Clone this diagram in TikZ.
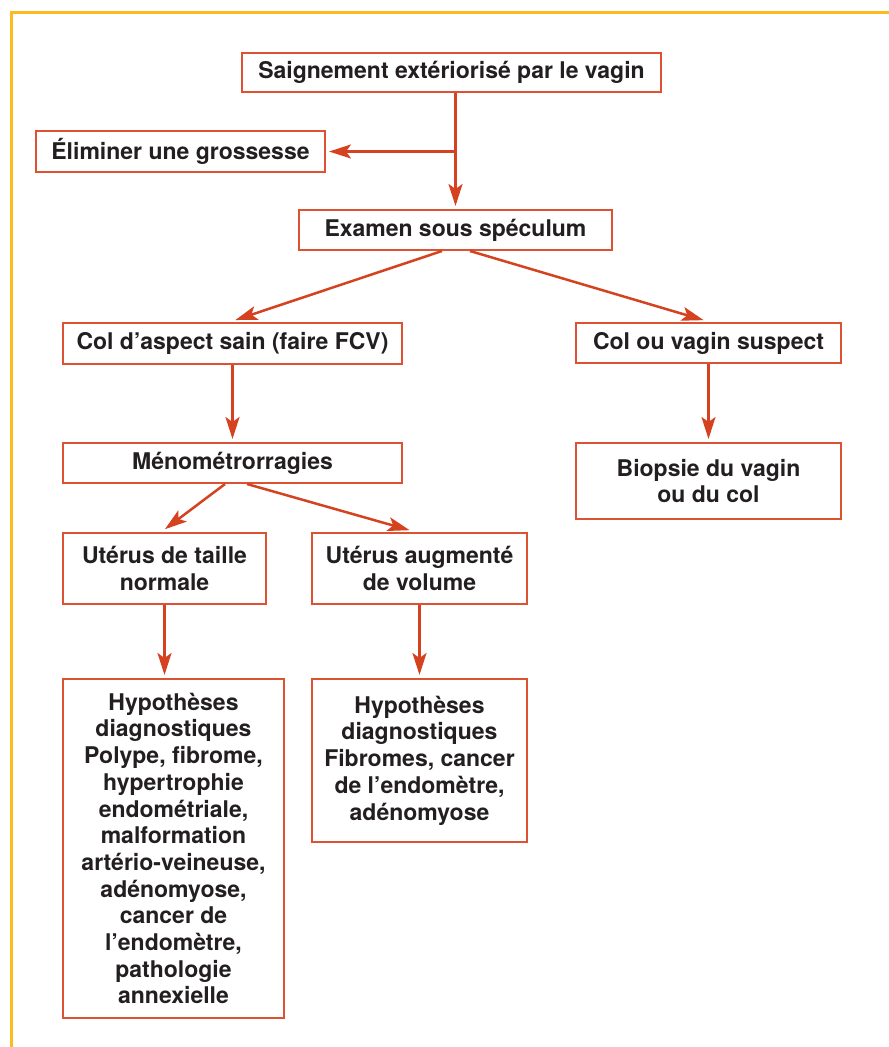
\documentclass[tikz,border=0pt]{standalone}
\usepackage{fontspec}
\setmainfont{TeX Gyre Heros}
\usetikzlibrary{arrows.meta,calc}
\definecolor{boxred}{RGB}{222,82,52}
\definecolor{arrowred}{RGB}{212,66,32}
\definecolor{framegold}{RGB}{251,187,34}
\definecolor{inkgrey}{RGB}{35,31,32}
\begin{document}
\begin{tikzpicture}[
	x=1pt, y=-1pt,
	box/.style={ rectangle, draw=boxred, line width=2pt, inner sep=0pt, align=center, text=inkgrey, font={\fontsize{23}{26.7}\selectfont\bfseries} },
	flow/.style={ draw=arrowred, line width=2.5pt, -{Stealth[length=22pt,width=14pt,inset=5pt]}, shorten >=3pt },
	frameline/.style={ draw=framegold, line width=3pt }
]
\useasboundingbox (0,0) rectangle (889,1047);
\draw[frameline] (11,1047) -- (11,12) -- (889,12);

\node at (451.5,72.5) (saign) [box,minimum width=419pt,minimum height=39pt] {Saignement extériorisé par le vagin};
\node at (180.5,151.5) (elim) [box,minimum width=289pt,minimum height=41pt] {Éliminer une grossesse};
\node at (455.5,230) (exam) [box,minimum width=313pt,minimum height=40pt] {Examen sous spéculum};
\node at (232.5,343.5) (colsain) [box,minimum width=339pt,minimum height=41pt] {Col d’aspect sain (faire FCV)};
\node at (708.5,343) (colsusp) [box,minimum width=265pt,minimum height=40pt] {Col ou vagin suspect};
\node at (708.5,481) (biop) [box,minimum width=265pt,minimum height=76pt] {Biopsie du vagin\\ou du col};
\node at (232.5,463) (meno) [box,minimum width=339pt,minimum height=40pt] {Ménométrorragies};
\node at (164.5,568.5) (utnorm) [box,minimum width=203pt,minimum height=71pt] {Utérus de taille\\normale};
\node at (419.5,568.5) (utaug) [box,minimum width=215pt,minimum height=71pt] {Utérus augmenté\\de volume};
\node at (173.5,848.5) (hypl) [box,minimum width=221pt,minimum height=339pt] {Hypothèses\\diagnostiques\\Polype, fibrome,\\hypertrophie\\endométriale,\\malformation\\artério-veineuse,\\adénomyose,\\cancer de\\l’endomètre,\\pathologie\\annexielle};
\node at (419.5,760.5) (hypr) [box,minimum width=215pt,minimum height=163pt] {Hypothèses\\diagnostiques\\Fibromes, cancer\\de l’endomètre,\\adénomyose};

\draw[flow] (exam.north |- saign.south) to (exam.north);
\draw[flow] (exam.north |- elim.east) to (elim.east);
\draw[flow] ($(exam.south)+(-13.5,0)$) to ($(colsain.north)+(0,-1)$);
\draw[flow] ($(exam.south)+(14.5,0)$) to ($(colsusp.north)+(-2,-1)$);
\draw[flow] (colsain.south) to (meno.north);
\draw[flow] (colsusp.south) to (biop.north);
\draw[flow] ($(meno.south)+(-7.5,0)$) to ($(utnorm.north)+(-2,-1)$);
\draw[flow] ($(meno.south)+(14.5,0)$) to ($(utaug.north)+(-7,-1)$);
\draw[flow] (utnorm.south) to (utnorm.south |- hypl.north);
\draw[flow] (utaug.south) to (hypr.north);

\end{tikzpicture}
\end{document}
